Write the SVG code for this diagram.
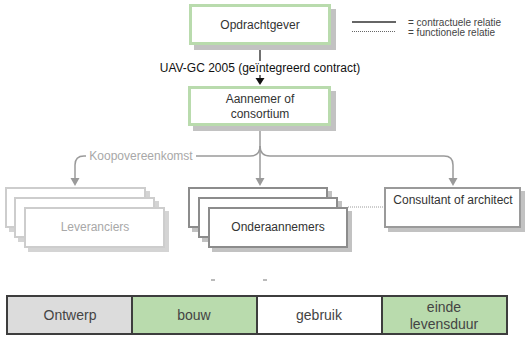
<svg xmlns="http://www.w3.org/2000/svg" width="526" height="338" viewBox="0 0 526 338">
  <style>
    text { font-family: "Liberation Sans", Arial, sans-serif; }
    .lbl { font-size: 12px; fill: #333; text-anchor: middle; dominant-baseline: central; }
    .lbl-light { font-size: 12px; fill: #a8a8a8; text-anchor: middle; dominant-baseline: central; }
    .legend { font-size: 10px; fill: #444; dominant-baseline: central; }
    .phase { font-size: 14px; fill: #444; text-anchor: middle; dominant-baseline: central; }
    .shadow { fill: #c2c2c2; }
    .shadow-light { fill: #d4d4d4; }
    .box-green { fill: #fff; stroke: #b9dbad; stroke-width: 3; }
    .box-grey { fill: #fff; stroke: #8c8c8c; stroke-width: 2; }
    .box-light { fill: #fff; stroke: #cdcdcd; stroke-width: 2; }
    .wire { fill: none; stroke: #9a9a9a; stroke-width: 1.5; }
    .wire-dark { fill: none; stroke: #111; stroke-width: 1.2; }
    .dotted { fill: none; stroke: #9a9a9a; stroke-width: 1; stroke-dasharray: 1 1; }
  </style>

  <!-- connectors -->
  <g id="connectors">
    <line class="wire-dark" x1="260" y1="50" x2="260" y2="61"/>
    <line class="wire-dark" x1="260" y1="75" x2="260" y2="79"/>
    <polygon points="255.5,78 264.5,78 260,85" fill="#111"/>

    <path class="wire" d="M260,130 L260,179"/>
    <path class="wire" d="M260,146 Q260,156 250,156 L84,156 Q75,156 75,165 L75,179"/>
    <path class="wire" d="M260,146 Q260,156 270,156 L444,156 Q453,156 453,165 L453,179"/>
    <polygon points="70.5,178 79.5,178 75,186" fill="#9a9a9a"/>
    <polygon points="255.5,178 264.5,178 260,186" fill="#9a9a9a"/>
    <polygon points="448.5,178 457.5,178 453,186" fill="#9a9a9a"/>

    <rect x="86" y="149" width="110" height="14" fill="#fff"/>
    <text class="lbl-light" x="141" y="156">Koopovereenkomst</text>

    <rect x="158" y="61" width="204" height="14" fill="#fff"/>
    <text class="lbl" x="260" y="68" style="fill:#111">UAV-GC 2005 (geïntegreerd contract)</text>

    <line class="dotted" x1="348" y1="207" x2="384" y2="207"/>
  </g>

  <!-- legend -->
  <g id="legend">
    <line x1="352" y1="22" x2="396" y2="22" stroke="#333" stroke-width="1.5"/>
    <line x1="352" y1="31.5" x2="396" y2="31.5" stroke="#666" stroke-width="1" stroke-dasharray="1 1"/>
    <text class="legend" x="408" y="22">= contractuele relatie</text>
    <text class="legend" x="408" y="32">= functionele relatie</text>
  </g>

  <!-- client -->
  <g id="opdrachtgever">
    <rect class="shadow" x="194" y="9" width="142" height="41"/>
    <rect class="box-green" x="190.5" y="5.5" width="139" height="38"/>
    <text class="lbl" x="260" y="25">Opdrachtgever</text>
  </g>

  <!-- contractor -->
  <g id="aannemer">
    <rect class="shadow" x="193" y="91" width="143" height="40"/>
    <rect class="box-green" x="189.5" y="87.5" width="140" height="37"/>
    <text class="lbl" x="260" y="99">Aannemer of</text>
    <text class="lbl" x="260" y="114">consortium</text>
  </g>

  <!-- suppliers stack -->
  <g id="leveranciers">
    <rect class="shadow-light" x="9" y="191" width="141" height="41"/>
    <rect class="box-light" x="6" y="188" width="139" height="39"/>
    <rect class="shadow-light" x="18" y="201" width="141" height="41"/>
    <rect class="box-light" x="15" y="198" width="139" height="39"/>
    <rect class="shadow-light" x="28" y="211" width="141" height="41"/>
    <rect class="box-light" x="25" y="208" width="139" height="39"/>
    <text class="lbl-light" x="95" y="227">Leveranciers</text>
  </g>

  <!-- subcontractors stack -->
  <g id="onderaannemers">
    <rect class="shadow" x="192" y="191" width="140" height="41"/>
    <rect class="box-grey" x="189" y="188" width="138" height="39"/>
    <rect class="shadow" x="202" y="201" width="140" height="41"/>
    <rect class="box-grey" x="199" y="198" width="138" height="39"/>
    <rect class="shadow" x="212" y="211" width="140" height="41"/>
    <rect class="box-grey" x="209" y="208" width="138" height="39"/>
    <text class="lbl" x="278" y="227">Onderaannemers</text>
  </g>

  <!-- consultant -->
  <g id="consultant">
    <rect class="shadow" x="388" y="191" width="137" height="41"/>
    <rect class="box-grey" x="385" y="188" width="135" height="39" style="stroke:#9a9a9a"/>
    <text class="lbl" x="453" y="200">Consultant of architect</text>
  </g>

  <!-- stray marks above the phase bar -->
  <line x1="211" y1="280" x2="215" y2="280" stroke="#777" stroke-width="1"/>
  <line x1="263" y1="280" x2="267" y2="280" stroke="#777" stroke-width="1"/>

  <!-- lifecycle phase bar -->
  <g id="fasen">
    <rect x="7" y="296" width="125" height="38" fill="#dcdcdc"/>
    <rect x="132" y="296" width="125" height="38" fill="#b9dbad"/>
    <rect x="257" y="296" width="125" height="38" fill="#fff"/>
    <rect x="382" y="296" width="125" height="38" fill="#b9dbad"/>
    <rect x="7" y="296" width="500" height="38" fill="none" stroke="#3d3d3d" stroke-width="2"/>
    <line x1="132" y1="296" x2="132" y2="334" stroke="#3d3d3d" stroke-width="2"/>
    <line x1="257" y1="296" x2="257" y2="334" stroke="#3d3d3d" stroke-width="2"/>
    <line x1="382" y1="296" x2="382" y2="334" stroke="#3d3d3d" stroke-width="2"/>
    <text class="phase" x="70" y="315">Ontwerp</text>
    <text class="phase" x="194" y="315">bouw</text>
    <text class="phase" x="319" y="315">gebruik</text>
    <text class="phase" x="444" y="307">einde</text>
    <text class="phase" x="444" y="324">levensduur</text>
  </g>
</svg>
